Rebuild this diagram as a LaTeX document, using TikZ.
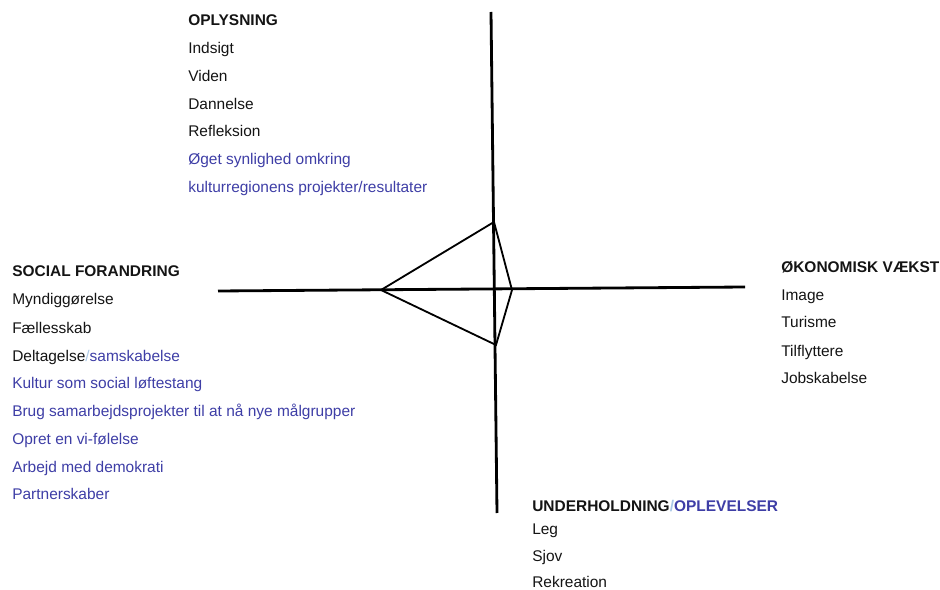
\documentclass[tikz,border=0pt]{standalone}
\usepackage{fontspec}
\setmainfont{Liberation Sans}
\usepackage{xcolor}
\definecolor{textdark}{RGB}{20, 20, 20}
\definecolor{itemblue}{RGB}{62, 62, 166}
\definecolor{slashblue}{RGB}{170, 200, 230}

\begin{document}
\begin{tikzpicture}[
    x=0.025cm, y=-0.025cm,
    head/.style={anchor=base west, inner sep=0pt, font=\fontsize{11}{13}\selectfont\bfseries, color=textdark},
    item/.style={anchor=base west, inner sep=0pt, font=\fontsize{11}{13}\selectfont, color=textdark},
    blueitem/.style={item, color=itemblue},
    axis/.style={line width=2pt, color=black},
    kite/.style={line width=1.3pt, color=black, line join=miter}
]
\useasboundingbox (0,0) rectangle (940,590);

% Axes
\coordinate (ntop) at (491,12);
\coordinate (nbot) at (497,513);
\coordinate (wend) at (218,291);
\coordinate (eend) at (745,287);
\draw[axis] (ntop) -- (nbot);
\draw[axis] (wend) -- (eend);

% Kite
\coordinate (kn) at (494,222);
\coordinate (ke) at (512,290);
\coordinate (ks) at (496,345);
\coordinate (kw) at (381,290);
\draw[kite] (kw) -- (kn) -- (ke) -- (ks) -- cycle;

% Oplysning
\node[head] (oplys) at (188,26) {OPLYSNING};
\node[item] (indsigt) at (188,54) {Indsigt};
\node[item] (viden) at (188,82) {Viden};
\node[item] (dannelse) at (188,110) {Dannelse};
\node[item] (refleksion) at (188,137) {Refleksion};
\node[blueitem] (synlig) at (188,165) {Øget synlighed omkring};
\node[blueitem] (projekter) at (188,193) {kulturregionens projekter/resultater};

% Social forandring
\node[head] (social) at (12,277) {SOCIAL FORANDRING};
\node[item] (myndig) at (12,305) {Myndiggørelse};
\node[item] (faelles) at (12,333) {Fællesskab};
\node[item] (deltag) at (12,361) {Deltagelse\textcolor{slashblue}{/}\textcolor{itemblue}{samskabelse}};
\node[blueitem] (kultur) at (12,388) {Kultur som social løftestang};
\node[blueitem] (samarb) at (12,416) {Brug samarbejdsprojekter til at nå nye målgrupper};
\node[blueitem] (vifoel) at (12,444) {Opret en vi-følelse};
\node[blueitem] (demokrati) at (12,472) {Arbejd med demokrati};
\node[blueitem] (partner) at (12,499) {Partnerskaber};

% Oekonomisk vaekst
\node[head] (oekonomi) at (781,273) {ØKONOMISK VÆKST};
\node[item] (image) at (781,301) {Image};
\node[item] (turisme) at (781,328) {Turisme};
\node[item] (tilflyt) at (781,356) {Tilflyttere};
\node[item] (jobs) at (781,383) {Jobskabelse};

% Underholdning
\node[head] (underh) at (532,511) {UNDERHOLDNING\textcolor{slashblue}{/}\textcolor{itemblue}{OPLEVELSER}};
\node[item] (leg) at (532,534) {Leg};
\node[item] (sjov) at (532,561) {Sjov};
\node[item] (rekreation) at (532,587) {Rekreation};

\end{tikzpicture}
\end{document}
